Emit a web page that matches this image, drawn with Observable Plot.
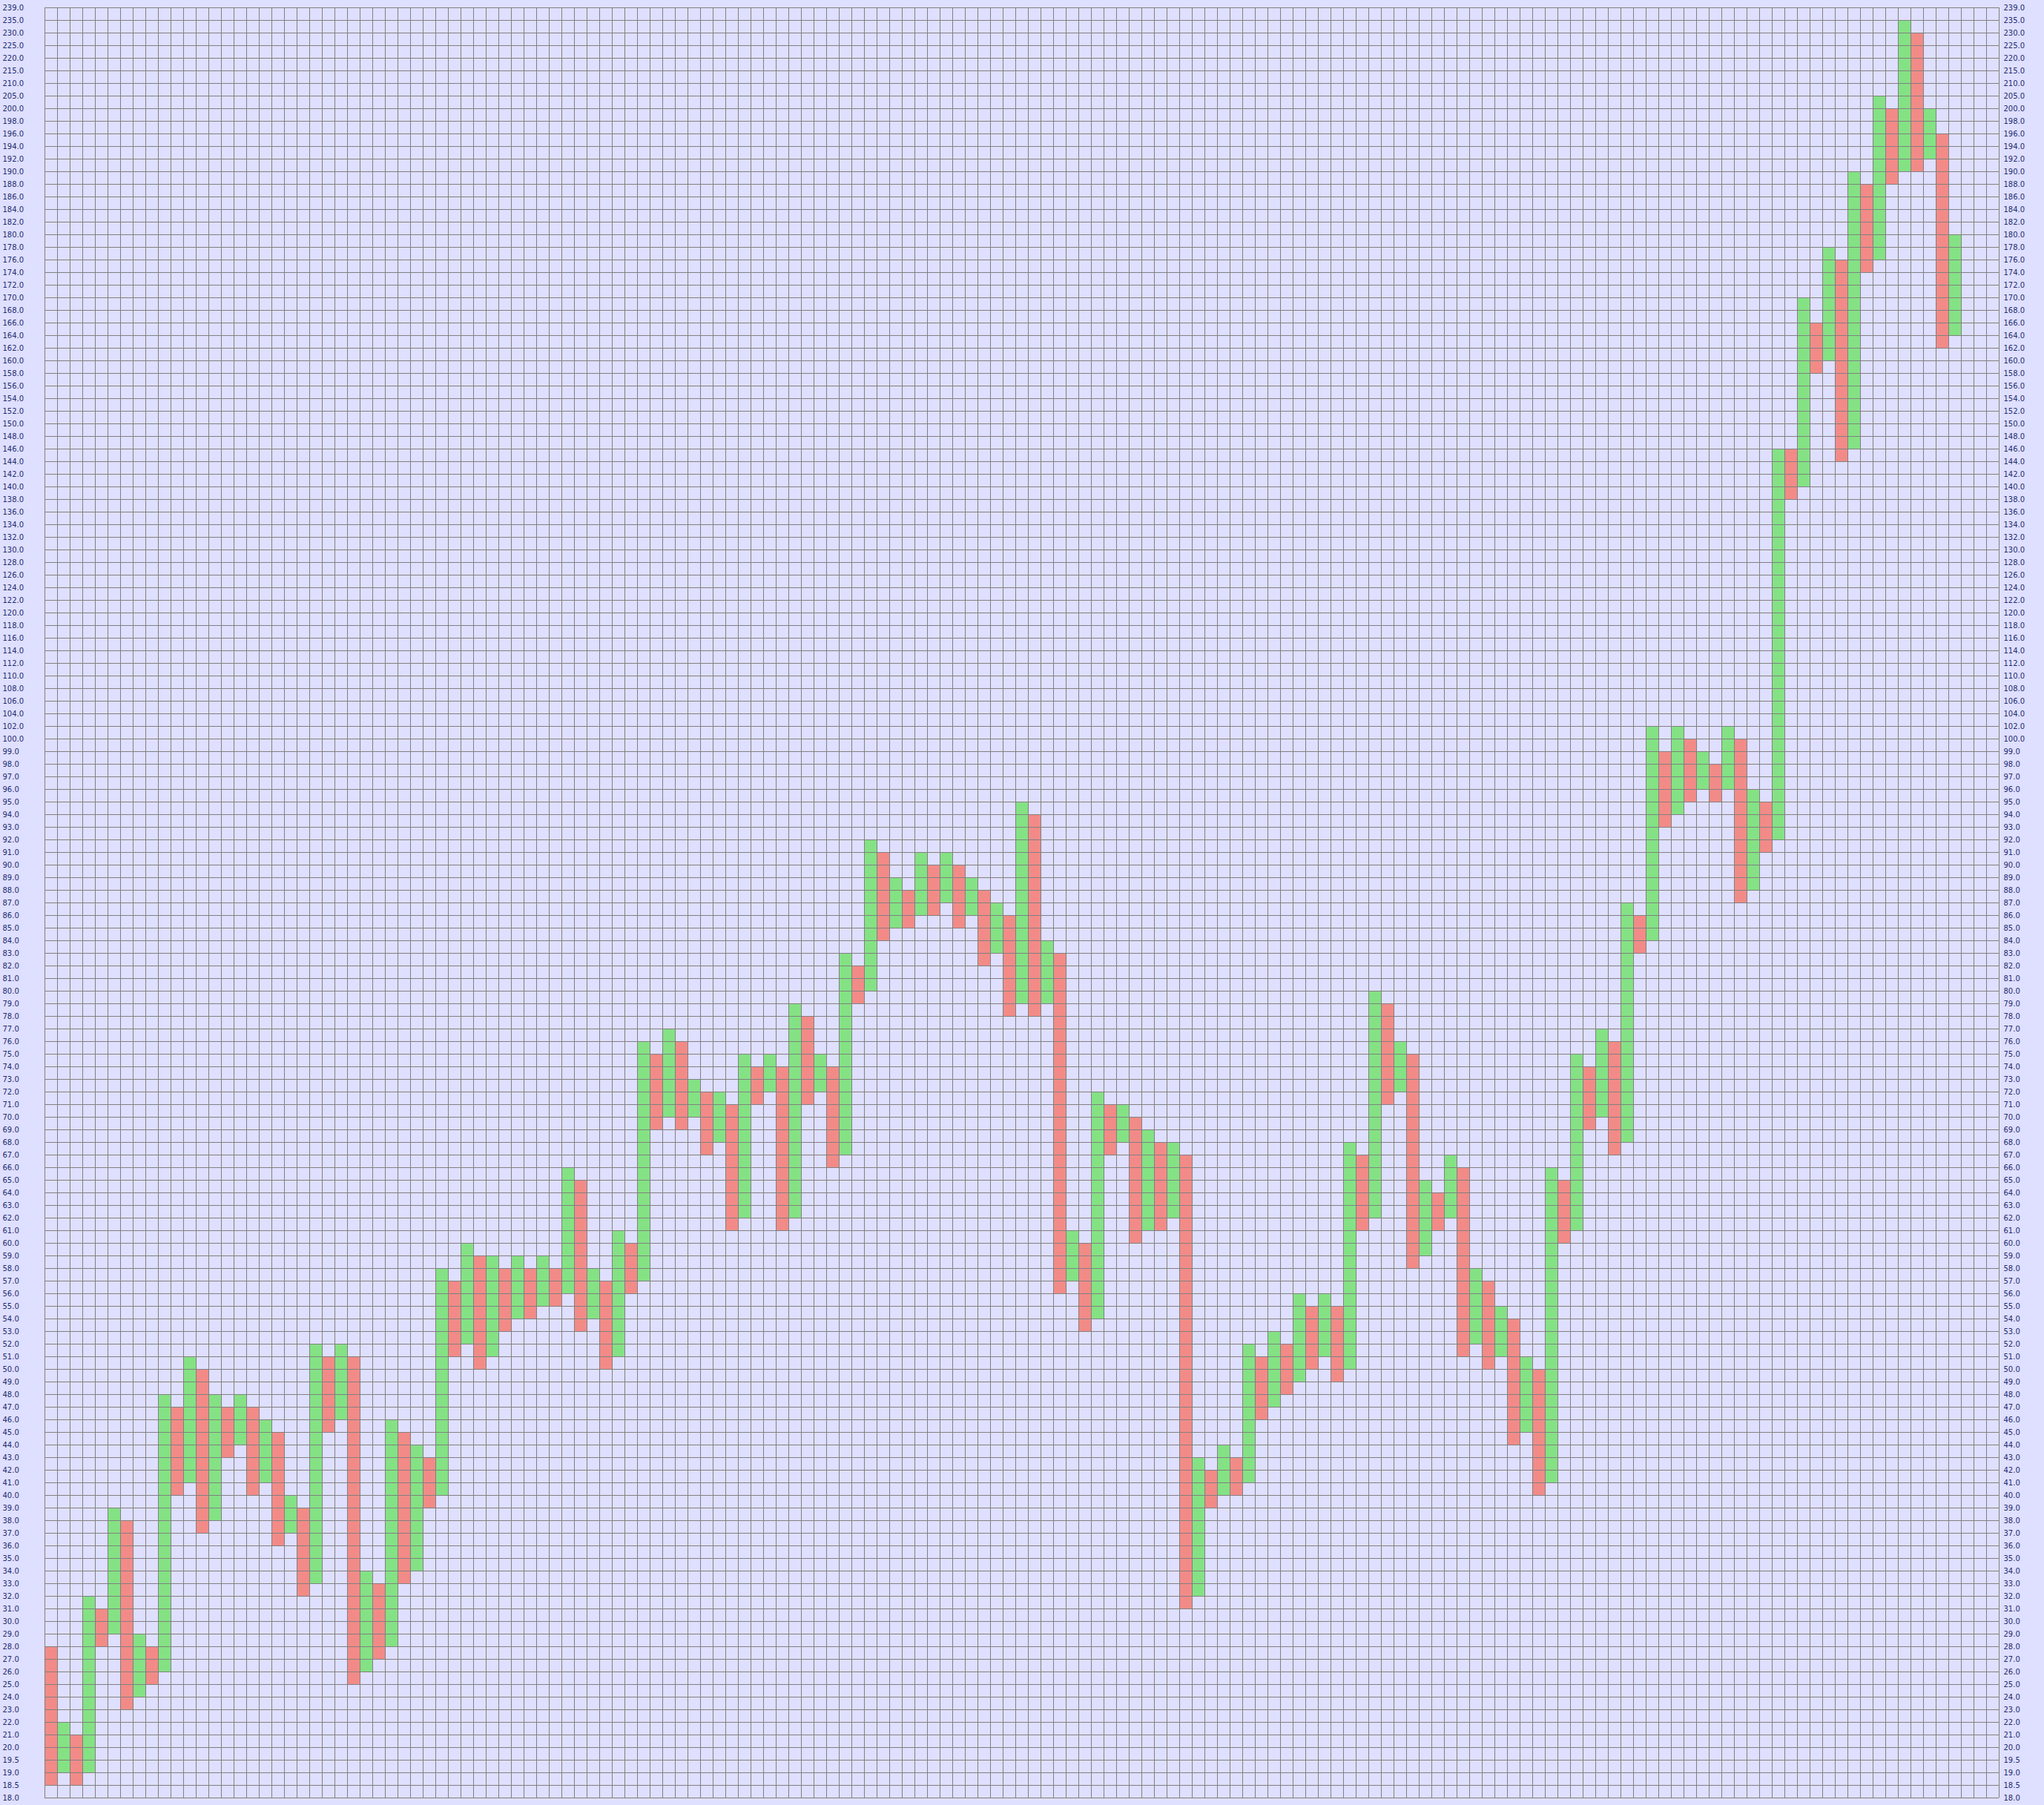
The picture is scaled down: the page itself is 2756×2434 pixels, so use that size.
<!DOCTYPE html>
<html>
<head>
<meta charset="utf-8">
<script src="https://cdn.jsdelivr.net/npm/d3@7"></script>
<script src="https://cdn.jsdelivr.net/npm/@observablehq/plot@0.6"></script>
<style>
  html, body { margin: 0; padding: 0; background: #dfdfff; }
  #chart { width: 2756px; height: 2434px; }
</style>
</head>
<body>
<div id="chart"></div>
<script>
// Box levels (tick labels of the price axis), bottom to top
const levels = [18.0, 18.5, 19.0, 19.5,
  20, 21, 22, 23, 24, 25, 26, 27, 28, 29, 30, 31, 32, 33, 34, 35, 36, 37, 38, 39,
  40, 41, 42, 43, 44, 45, 46, 47, 48, 49, 50, 51, 52, 53, 54, 55, 56, 57, 58, 59,
  60, 61, 62, 63, 64, 65, 66, 67, 68, 69, 70, 71, 72, 73, 74, 75, 76, 77, 78, 79,
  80, 81, 82, 83, 84, 85, 86, 87, 88, 89, 90, 91, 92, 93, 94, 95, 96, 97, 98, 99,
  100, 102, 104, 106, 108, 110, 112, 114, 116, 118, 120, 122, 124, 126, 128, 130,
  132, 134, 136, 138, 140, 142, 144, 146, 148, 150, 152, 154, 156, 158, 160, 162,
  164, 166, 168, 170, 172, 174, 176, 178, 180, 182, 184, 186, 188, 190, 192, 194,
  196, 198, 200, 205, 210, 215, 220, 225, 230, 235, 239];

// Column type: X = rising (green), O = falling (red)
const kinds = ["O","X","O","X","O","X","O","X","O","X","O","X","O","X","O","X","O","X","O","X",
  "O","X","O","X","O","X","O","X","O","X","O","X","O","X","O","X","O","X","O","X",
  "O","X","O","X","O","X","O","X","O","X","O","X","O","X","O","X","O","X","O","X",
  "O","X","O","X","O","X","O","X","O","X","O","X","O","X","O","X","O","X","O","X",
  "O","X","O","X","O","X","O","X","O","X","O","X","O","X","O","X","O","X","O","X",
  "O","X","O","X","O","X","O","X","O","X","O","X","O","X","O","X","O","X","O","X",
  "O","X","O","X","O","X","O","X","O","X","O","X","O","X","O","X","O","X","O","X",
  "O","X","O","X","O","X","O","X","O","X","O","X"];

// Bottom of each column (price level)
const lows = [18.5, 19, 18.5, 19, 28, 29, 23, 24, 25, 26, 40, 41, 37, 38, 43, 44, 40, 41, 36, 37,
  32, 33, 45, 46, 25, 26, 27, 28, 33, 34, 39, 40, 51, 52, 50, 51, 53, 54, 54, 55,
  55, 56, 53, 54, 50, 51, 56, 57, 69, 70, 69, 70, 67, 68, 61, 62, 71, 72, 61, 62,
  71, 72, 66, 67, 79, 80, 84, 85, 85, 86, 86, 87, 85, 86, 82, 83, 78, 79, 78, 79,
  56, 57, 53, 54, 67, 68, 60, 61, 61, 62, 31, 32, 39, 40, 40, 41, 46, 47, 48, 49,
  50, 51, 49, 50, 61, 62, 71, 72, 58, 59, 61, 62, 51, 52, 50, 51, 44, 45, 40, 41,
  60, 61, 69, 70, 67, 68, 83, 84, 93, 94, 95, 96, 95, 96, 87, 88, 91, 92, 138, 140,
  158, 160, 144, 146, 174, 176, 188, 190, 190, 192, 162, 164];

// Top of each column (price level)
const highs = [28, 22, 21, 32, 31, 39, 38, 29, 28, 48, 47, 51, 50, 48, 47, 48, 47, 46, 45, 40,
  39, 52, 51, 52, 51, 34, 33, 46, 45, 44, 43, 58, 57, 60, 59, 59, 58, 59, 58, 59,
  58, 66, 65, 58, 57, 61, 60, 76, 75, 77, 76, 73, 72, 72, 71, 75, 74, 75, 74, 79,
  78, 75, 74, 83, 82, 92, 91, 89, 88, 91, 90, 91, 90, 89, 88, 87, 86, 95, 94, 84,
  83, 61, 60, 72, 71, 71, 70, 69, 68, 68, 67, 43, 42, 44, 43, 52, 51, 53, 52, 56,
  55, 56, 55, 68, 67, 80, 79, 76, 75, 65, 64, 67, 66, 58, 57, 55, 54, 51, 50, 66,
  65, 75, 74, 77, 76, 87, 86, 102, 99, 102, 100, 99, 98, 102, 100, 96, 95, 146, 146, 170,
  166, 178, 176, 190, 188, 205, 200, 235, 230, 200, 196, 180];

const nCols = 155;
const green = "#84e284";
const red = "#f28b87";
const gridColor = "#808080";
const labelColor = "#1c2c70";

const idx = v => levels.indexOf(v);
const columns = kinds.map((k, i) => ({kind: k, col: i, y1: idx(lows[i]), y2: idx(highs[i])}));
const rowTicks = d3.range(levels.length);
const fmt = i => levels[i].toFixed(1);

const chart = Plot.plot({
  width: 2756,
  height: 2434,
  marginLeft: 60,
  marginRight: 61,
  marginTop: 10,
  marginBottom: 10,
  style: {background: "#dfdfff", fontFamily: "DejaVu Sans", fontSize: "10px", color: labelColor},
  x: {domain: [0, nCols], axis: null},
  y: {domain: [0, levels.length - 1], axis: null},
  marks: [
    Plot.rect(columns.filter(d => d.kind === "X"), {x1: d => d.col, x2: d => d.col + 1, y1: "y1", y2: "y2", fill: green}),
    Plot.rect(columns.filter(d => d.kind === "O"), {x1: d => d.col, x2: d => d.col + 1, y1: "y1", y2: "y2", fill: red}),
    Plot.ruleY(rowTicks, {stroke: gridColor, strokeWidth: 1}),
    Plot.ruleX(d3.range(nCols + 1), {stroke: gridColor, strokeWidth: 1}),
    Plot.axisY(rowTicks, {anchor: "left", tickSize: 0, tickPadding: 57, textAnchor: "start", tickFormat: fmt, fill: labelColor, label: null}),
    Plot.axisY(rowTicks, {anchor: "right", tickSize: 0, tickPadding: 6, tickFormat: fmt, fill: labelColor, label: null})
  ]
});
document.getElementById("chart").appendChild(chart);
</script>
</body>
</html>
